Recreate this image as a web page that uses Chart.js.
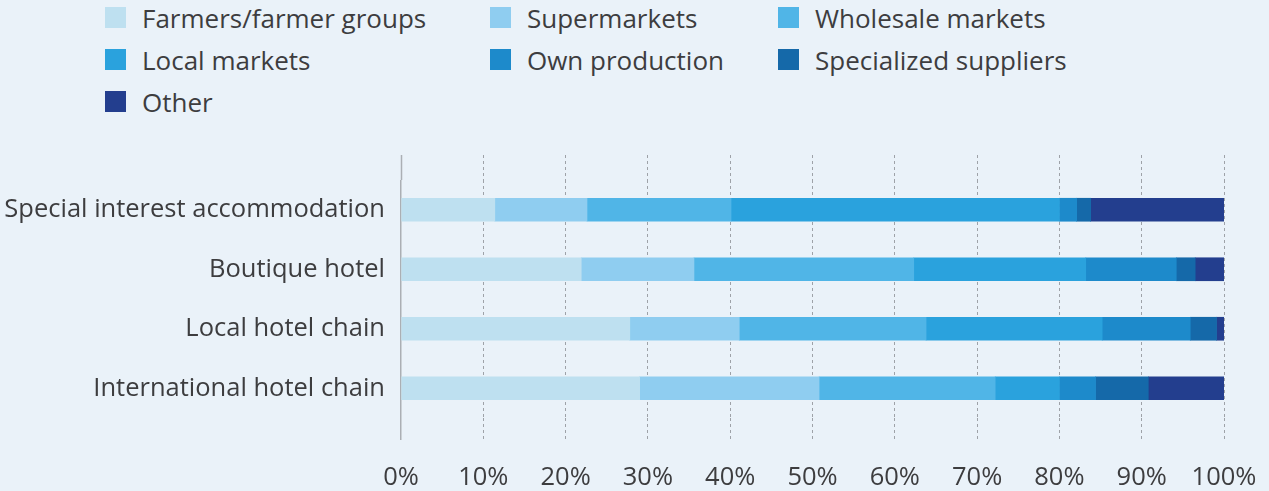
<!DOCTYPE html>
<html>
<head>
<meta charset="utf-8">
<script src="https://cdn.jsdelivr.net/npm/chart.js@4"></script>
<style>
  html, body { margin: 0; padding: 0; background: #eaf2f9; }
  #wrap { position: relative; width: 1269px; height: 491px; }
  #legend {
    position: absolute; left: 105px; top: 7px;
    display: grid; grid-template-columns: 385px 288px auto;
    row-gap: 21px;
    font-family: "Open Sans", sans-serif; font-size: 26px; color: #3d3d3f;
  }
  .item { display: flex; align-items: center; height: 21px; white-space: nowrap; }
  .box { width: 21px; height: 21px; margin-right: 16px; flex: none; }
  canvas { position: absolute; left: 0; top: 0; }
</style>
</head>
<body>
<div id="wrap">
  <div id="legend"></div>
  <canvas id="chart" width="1269" height="491"></canvas>
</div>
<script>
const categories = [
  "Special interest accommodation",
  "Boutique hotel",
  "Local hotel chain",
  "International hotel chain",
];
const seriesNames = [
  "Farmers/farmer groups",
  "Supermarkets",
  "Wholesale markets",
  "Local markets",
  "Own production",
  "Specialized suppliers",
  "Other",
];
const farmers = [11.4, 21.9, 27.8, 29.0];
const supermarkets = [11.2, 13.7, 13.3, 21.8];
const wholesale = [17.5, 26.7, 22.7, 21.4];
const localMarkets = [39.9, 20.9, 21.4, 7.8];
const ownProduction = [2.1, 11.0, 10.7, 4.4];
const specializedSuppliers = [1.7, 2.3, 3.2, 6.4];
const other = [16.2, 3.5, 0.9, 9.2];
const percentTicks = [0, 10, 20, 30, 40, 50, 60, 70, 80, 90, 100];

const seriesValues = [farmers, supermarkets, wholesale, localMarkets, ownProduction, specializedSuppliers, other];
const colors = ["#bee0f0", "#8fcdf0", "#50b5e7", "#2aa2dd", "#1d8acb", "#1569a9", "#233e8e"];

const textColor = "#3d3d3f";
const fontFamily = "'Open Sans', sans-serif";
const gridColor = "#9ea2a8";
const axisColor = "#abafb4";
const dash = (ctx) => (ctx.tick && ctx.tick.value === 0 ? [] : [3, 3]);
const lineCol = (ctx) => (ctx.tick && ctx.tick.value === 0 ? axisColor : gridColor);
const lineW = (ctx) => (ctx.tick && ctx.tick.value === 0 ? 1.5 : 1);

const ctx = document.getElementById("chart").getContext("2d");
const chart = new Chart(ctx, {
  type: "bar",
  data: {
    labels: categories,
    datasets: seriesNames.map((name, i) => ({
      label: name,
      data: seriesValues[i],
      backgroundColor: colors[i],
      borderWidth: 0,
      barThickness: 23,
    })),
  },
  options: {
    indexAxis: "y",
    responsive: false,
    animation: false,
    layout: { padding: { top: 155, right: 45, bottom: 0, left: 0 } },
    plugins: {
      legend: { display: false },
      tooltip: { enabled: false },
    },
    scales: {
      x: {
        stacked: true,
        min: 0,
        max: 100,
        afterBuildTicks: (scale) => {
          scale.ticks = percentTicks.map((v) => ({ value: v }));
        },
        afterFit: (scale) => {
          scale.height = 73;
          scale.paddingLeft = 0;
          scale.paddingRight = 0;
        },
        border: { display: false, dash: dash },
        grid: {
          color: lineCol,
          lineWidth: lineW,
          tickColor: lineCol,
          tickWidth: lineW,
          tickLength: 22,
          tickBorderDash: dash,
        },
        ticks: {
          padding: 22,
          color: textColor,
          font: { family: fontFamily, size: 25.5 },
          callback: (v) => v + "%",
        },
      },
      // top axis only carries the gridline stubs above the bars
      xTop: {
        axis: "x",
        position: "top",
        min: 0,
        max: 100,
        afterBuildTicks: (scale) => {
          scale.ticks = percentTicks.map((v) => ({ value: v }));
        },
        afterFit: (scale) => {
          scale.height = 25;
          scale.paddingLeft = 0;
          scale.paddingRight = 0;
        },
        border: { display: false },
        grid: {
          drawOnChartArea: false,
          tickColor: lineCol,
          tickWidth: lineW,
          tickLength: 25,
          tickBorderDash: dash,
        },
        ticks: { display: false },
      },
      y: {
        stacked: true,
        afterFit: (scale) => {
          scale.width = 401;
        },
        border: { display: false },
        grid: { display: false, drawTicks: false },
        ticks: {
          padding: 16,
          color: textColor,
          font: { family: fontFamily, size: 25.5 },
        },
      },
    },
  },
});

// legend in three columns
const legend = document.getElementById("legend");
chart.data.datasets.forEach((ds) => {
  const item = document.createElement("div");
  item.className = "item";
  const box = document.createElement("span");
  box.className = "box";
  box.style.background = ds.backgroundColor;
  const label = document.createElement("span");
  label.textContent = ds.label;
  item.appendChild(box);
  item.appendChild(label);
  legend.appendChild(item);
});
</script>
</body>
</html>
